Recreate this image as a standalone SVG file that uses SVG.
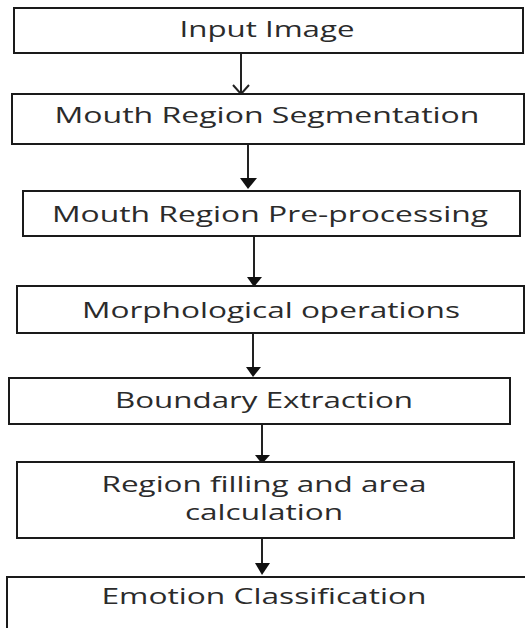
<svg xmlns="http://www.w3.org/2000/svg" width="525" height="628" viewBox="0 0 525 628">
<style>
.box{fill:#fff;stroke:#1a1a1a;stroke-width:2}
.lbl{font-family:"Open Sans","Liberation Sans",sans-serif;font-size:21px;fill:#2b2b2b;text-anchor:middle}
.ln{stroke:#222;stroke-width:2;fill:none}
.hd{fill:#111}
</style>
<rect width="525" height="628" fill="#fff"/>
<g id="connectors">
<line class="ln" x1="241" y1="53" x2="241" y2="94"/>
<polyline class="ln" points="233,85 241,94 249,85" stroke-width="1.5"/>
<line class="ln" x1="248" y1="144" x2="248" y2="180" stroke-width="3.5"/>
<polygon class="hd" points="240,178 257,178 248,189"/>
<line class="ln" x1="254" y1="236" x2="254" y2="279"/>
<polygon class="hd" points="247,277 262,277 254,287"/>
<line class="ln" x1="253" y1="333" x2="253" y2="369"/>
<polygon class="hd" points="246,367 261,367 253,377"/>
<line class="ln" x1="262" y1="424" x2="262" y2="457"/>
<polygon class="hd" points="255,455 270,455 262,464"/>
<line class="ln" x1="262" y1="538" x2="262" y2="565"/>
<polygon class="hd" points="255,563 270,563 262,575"/>
</g>
<g id="n1"><rect class="box" x="14" y="8" width="509" height="45"/><text class="lbl" x="267" y="37" textLength="175" lengthAdjust="spacingAndGlyphs">Input Image</text></g>
<g id="n2"><rect class="box" x="12" y="94" width="512" height="50"/><text class="lbl" x="267" y="123" textLength="425" lengthAdjust="spacingAndGlyphs">Mouth Region Segmentation</text></g>
<g id="n3"><rect class="box" x="23" y="191" width="497" height="45"/><text class="lbl" x="270" y="222" textLength="436" lengthAdjust="spacingAndGlyphs">Mouth Region Pre-processing</text></g>
<g id="n4"><rect class="box" x="17" y="286" width="507" height="47"/><text class="lbl" x="271" y="318" textLength="378" lengthAdjust="spacingAndGlyphs">Morphological operations</text></g>
<g id="n5"><rect class="box" x="9" y="378" width="501" height="46"/><text class="lbl" x="264" y="408" textLength="298" lengthAdjust="spacingAndGlyphs">Boundary Extraction</text></g>
<g id="n6"><rect class="box" x="17" y="462" width="497" height="76"/><text class="lbl" x="264" y="492" textLength="325" lengthAdjust="spacingAndGlyphs">Region filling and area</text><text class="lbl" x="264" y="520" textLength="158" lengthAdjust="spacingAndGlyphs">calculation</text></g>
<g id="n7"><rect class="box" x="7" y="577" width="530" height="60"/><text class="lbl" x="264" y="604" textLength="325" lengthAdjust="spacingAndGlyphs">Emotion Classification</text></g>
</svg>
